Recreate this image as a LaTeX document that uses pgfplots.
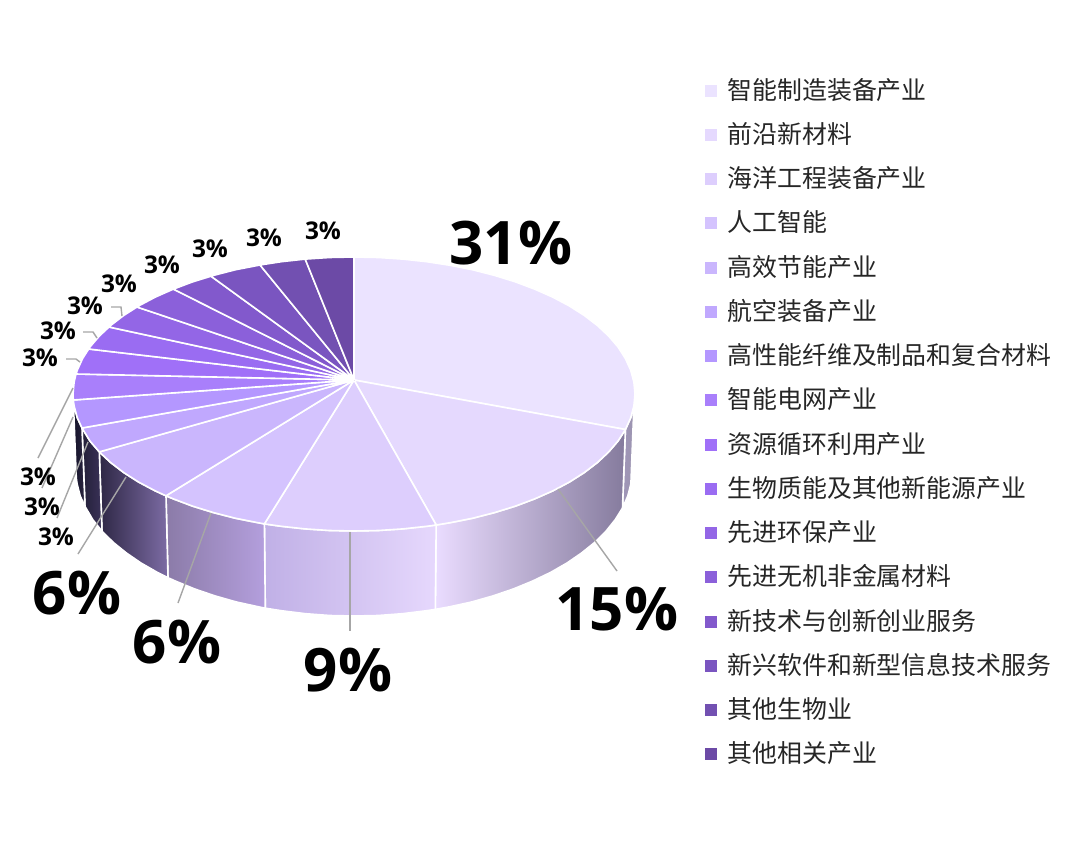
\documentclass[border=0pt]{standalone}
\usepackage{fontspec}
\setmainfont{Open Sans}
\newfontfamily\cjk{Noto Sans CJK SC}
\usepackage{pgfplots}
\pgfplotsset{compat=1.18}

\definecolor{c1}{HTML}{EBE3FF}
\definecolor{c2}{HTML}{E5D9FE}
\definecolor{c3}{HTML}{DDCEFD}
\definecolor{c4}{HTML}{D4C3FE}
\definecolor{c5}{HTML}{CAB6FD}
\definecolor{c6}{HTML}{C0A8FE}
\definecolor{c7}{HTML}{B497FF}
\definecolor{c8}{HTML}{A97FFB}
\definecolor{c9}{HTML}{A070F8}
\definecolor{c10}{HTML}{9A6CF2}
\definecolor{c11}{HTML}{9366E6}
\definecolor{c12}{HTML}{8B60DA}
\definecolor{c13}{HTML}{8259CC}
\definecolor{c14}{HTML}{7A55C0}
\definecolor{c15}{HTML}{7250B1}
\definecolor{c16}{HTML}{6C4AA6}
\definecolor{lead}{HTML}{A6A6A6}
% wall gradient stops
\definecolor{w1l}{HTML}{A096B8}
\definecolor{w1r}{HTML}{9C94B0}
\definecolor{w2l}{HTML}{EADCFF}
\definecolor{w2m}{HTML}{D2C6EE}
\definecolor{w2r}{HTML}{857B9D}
\definecolor{w3l}{HTML}{C0B0E6}
\definecolor{w3m}{HTML}{D6C7FE}
\definecolor{w3r}{HTML}{E6D8FD}
\definecolor{w4l}{HTML}{8B7BA8}
\definecolor{w4r}{HTML}{B49FDD}
\definecolor{w5l}{HTML}{2E2745}
\definecolor{w5r}{HTML}{7D6CA5}
\definecolor{w6l}{HTML}{231F38}
\definecolor{w6r}{HTML}{3A3258}
\definecolor{w7l}{HTML}{15132A}
\definecolor{w7r}{HTML}{2A2540}

\tikzset{
  big/.style={font=\fontsize{30}{30}\selectfont\bfseries, text=black},
  small/.style={font=\fontsize{12.2}{12.2}\selectfont\bfseries, text=black},
}
\pgfplotsset{
  slice/.style={draw=white, line width=0.8pt, line join=round},
  wall/.style={draw=white, line width=0.8pt, line join=round, forget plot},
  leader/.style={draw=lead, line width=0.7pt, forget plot},
}

\begin{document}
\begin{tikzpicture}
\begin{axis}[
  scale only axis,
  width=540pt, height=422.5pt,
  xmin=0, xmax=1080, ymin=0, ymax=845,
  y dir=reverse,
  hide axis,
  clip=false,
  legend image code/.code={\fill[#1,draw=none] (0pt,-2.5pt) rectangle (6pt,3.5pt); \path[#1,draw=none,fill=none] (0pt,0pt) -- (11.5pt,0pt);},
  legend cell align=left,
  legend style={
    at={(axis cs:704.5,79)}, anchor=north west,
    draw=none, fill=none, inner sep=0pt, outer sep=0pt,
    font=\cjk\fontsize{12.45}{14}\selectfont,
    row sep=9.63pt,
    nodes={inner sep=0pt, text height=10pt, text depth=2.5pt, text=black!85},
  },
]
% page
\addplot[draw=none, fill=white, forget plot] coordinates {(0,0) (1080,0) (1080,845) (0,845) (0,0)};

% side walls
\addplot[wall, left color=w1l, right color=w1r] coordinates {(633.9,405.9) (630.7,417.8) (625.4,429.5) (622.5,508) (627.8,496) (630.9,483.9) (633.9,405.9)};
\addplot[wall, left color=w2l, middle color=w2m, right color=w2r] coordinates {(625.4,429.5) (618.1,440.9) (608.7,451.9) (597.4,462.5) (584.2,472.6) (569.3,482.1) (552.7,490.9) (534.6,498.9) (515.2,506.2) (494.5,512.6) (472.8,518.2) (450.1,522.7) (436.2,525)
  (435.3,609.4) (449.1,606.9) (471.5,602) (493,595.9) (513.5,588.9) (532.7,581) (550.6,572.4) (567,563) (581.7,552.9) (594.8,542.3) (606,531.2) (615.2,519.7) (622.5,508) (625.4,429.5)};
\addplot[wall, left color=w3l, middle color=w3m, right color=w3r] coordinates {(436.2,525) (426.7,526.3) (402.8,528.9) (378.5,530.5) (354,531) (329.5,530.5) (305.2,528.9) (281.3,526.3) (264.4,523.9)
  (265.3,608.2) (282,610.8) (305.7,613.7) (329.8,615.5) (354,616) (378.2,615.5) (402.3,613.7) (426,610.8) (435.3,609.4) (436.2,525)};
\addplot[wall, left color=w4l, right color=w4r] coordinates {(264.4,523.9) (257.9,522.7) (235.2,518.2) (213.5,512.6) (192.8,506.2) (173.4,498.9) (166,495.8)
  (168,577.7) (175.3,581) (194.5,588.9) (215,595.9) (236.5,602) (258.9,606.9) (265.3,608.2) (264.4,523.9)};
\addplot[wall, left color=w5l, right color=w5r] coordinates {(166,495.8) (155.3,490.9) (138.7,482.1) (123.8,472.6) (110.6,462.5) (99.3,451.9)
  (102,531.2) (113.2,542.3) (126.3,552.9) (141,563) (157.4,572.4) (168,577.7) (166,495.8)};
\addplot[wall, left color=w6l, right color=w6r] coordinates {(99.3,451.9) (89.9,440.9) (82,428)
  (85,506.4) (92.8,519.7) (102,531.2) (99.3,451.9)};
\addplot[wall, left color=w7l, right color=w7r] coordinates {(82,428) (77.3,417.8) (74.1,405.9) (73.3,400)
  (76.3,478) (77.1,483.9) (80.2,496) (85,506.4) (82,428)};

% top of the pie, one polygon for each share
\addplot[slice, fill=c1] coordinates {(354,380) (354,257) (378.5,257.5) (402.8,259.1) (426.7,261.7) (450.1,265.3) (472.8,269.8) (494.5,275.4) (515.2,281.8) (534.6,289.1) (552.7,297.1) (569.3,305.9) (584.2,315.4) (597.4,325.5) (608.7,336.1) (618.1,347.1) (625.4,358.5) (630.7,370.2) (633.9,382.1) (635,394) (633.9,405.9) (630.7,417.8) (625.4,429.5) (354,380)};
\addlegendentry{智能制造装备产业}
\addplot[slice, fill=c2] coordinates {(354,380) (625.4,429.5) (618.1,440.9) (608.7,451.9) (597.4,462.5) (584.2,472.6) (569.3,482.1) (552.7,490.9) (534.6,498.9) (515.2,506.2) (494.5,512.6) (472.8,518.2) (450.1,522.7) (436.2,525) (354,380)};
\addlegendentry{前沿新材料}
\addplot[slice, fill=c3] coordinates {(354,380) (436.2,525) (426.7,526.3) (402.8,528.9) (378.5,530.5) (354,531) (329.5,530.5) (305.2,528.9) (281.3,526.3) (264.4,523.9) (354,380)};
\addlegendentry{海洋工程装备产业}
\addplot[slice, fill=c4] coordinates {(354,380) (264.4,523.9) (257.9,522.7) (235.2,518.2) (213.5,512.6) (192.8,506.2) (173.4,498.9) (166,495.8) (354,380)};
\addlegendentry{人工智能}
\addplot[slice, fill=c5] coordinates {(354,380) (166,495.8) (155.3,490.9) (138.7,482.1) (123.8,472.6) (110.6,462.5) (99.3,451.9) (354,380)};
\addlegendentry{高效节能产业}
\addplot[slice, fill=c6] coordinates {(354,380) (99.3,451.9) (89.9,440.9) (82,428) (354,380)};
\addlegendentry{航空装备产业}
\addplot[slice, fill=c7] coordinates {(354,380) (82,428) (77.3,417.8) (74.1,405.9) (73.3,400) (354,380)};
\addlegendentry{高性能纤维及制品和复合材料}
\addplot[slice, fill=c8] coordinates {(354,380) (73.3,400) (73,394) (74.1,382.1) (76,374) (354,380)};
\addlegendentry{智能电网产业}
\addplot[slice, fill=c9] coordinates {(354,380) (76,374) (77.3,370.2) (82.6,358.5) (88.7,349) (354,380)};
\addlegendentry{资源循环利用产业}
\addplot[slice, fill=c10] coordinates {(354,380) (88.7,349) (89.9,347.1) (99.3,336.1) (109,327) (354,380)};
\addlegendentry{生物质能及其他新能源产业}
\addplot[slice, fill=c11] coordinates {(354,380) (109,327) (110.6,325.5) (123.8,315.4) (137,307) (354,380)};
\addlegendentry{先进环保产业}
\addplot[slice, fill=c12] coordinates {(354,380) (137,307) (138.7,305.9) (155.3,297.1) (173.4,289.1) (354,380)};
\addlegendentry{先进无机非金属材料}
\addplot[slice, fill=c13] coordinates {(354,380) (173.4,289.1) (192.8,281.8) (211,276.2) (354,380)};
\addlegendentry{新技术与创新创业服务}
\addplot[slice, fill=c14] coordinates {(354,380) (211,276.2) (213.5,275.4) (235.2,269.8) (260,265) (354,380)};
\addlegendentry{新兴软件和新型信息技术服务}
\addplot[slice, fill=c15] coordinates {(354,380) (260,265) (281.3,261.7) (305.2,259.1) (354,380)};
\addlegendentry{其他生物业}
\addplot[slice, fill=c16] coordinates {(354,380) (305.2,259.1) (329.5,257.5) (354,257) (354,380)};
\addlegendentry{其他相关产业}

% leader lines
\addplot[leader] coordinates {(558,489) (617,571)};
\addplot[leader] coordinates {(350,532) (350,631)};
\addplot[leader] coordinates {(211,513) (178,603)};
\addplot[leader] coordinates {(126,477) (78,554)};
\addplot[leader] coordinates {(88,442) (57,518)};
\addplot[leader] coordinates {(73,417) (42,488)};
\addplot[leader] coordinates {(73,388) (38,458)};
\addplot[leader] coordinates {(80,362) (76,359) (66,359)};
\addplot[leader] coordinates {(97,338) (93,332) (83,332)};
\addplot[leader] coordinates {(122,316) (121,307) (111,307)};

% percentages
\node[big] at (axis cs:511,243) {31\%};
\node[big] at (axis cs:617,609) {15\%};
\node[big] at (axis cs:348,670) {9\%};
\node[big] at (axis cs:177,642) {6\%};
\node[big] at (axis cs:77,593) {6\%};
\node[small] at (axis cs:56,537) {3\%};
\node[small] at (axis cs:42,507) {3\%};
\node[small] at (axis cs:38,477) {3\%};
\node[small] at (axis cs:40,358) {3\%};
\node[small] at (axis cs:58,331) {3\%};
\node[small] at (axis cs:85,306) {3\%};
\node[small] at (axis cs:119,284) {3\%};
\node[small] at (axis cs:162,265) {3\%};
\node[small] at (axis cs:210,249) {3\%};
\node[small] at (axis cs:264,238) {3\%};
\node[small] at (axis cs:323,231) {3\%};
\end{axis}
\end{tikzpicture}
\end{document}
